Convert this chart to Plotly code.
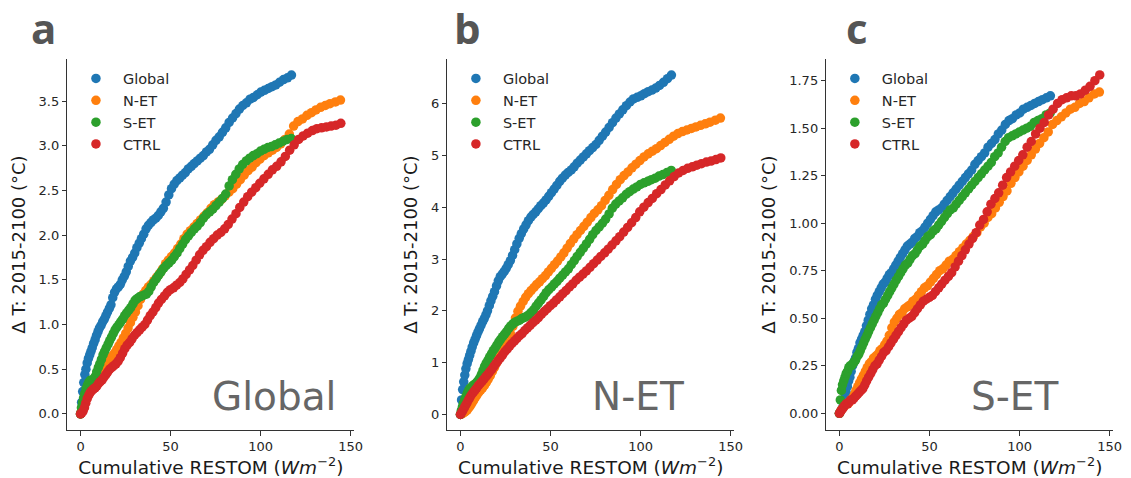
import plotly.graph_objects as go

# ---------------- data ----------------
series_names = ["Global", "N-ET", "S-ET", "CTRL"]
series_colors = ["#1f77b4", "#ff7f0e", "#2ca02c", "#d62728"]
panel_letters = ["a", "b", "c"]
panel_regions = ["Global", "N-ET", "S-ET"]
x_tick_vals = [0, 50, 100, 150]

# cumulative RESTOM (W m-2), one value per year 2015-2100, per experiment
x_global = [0, 0.6, 1.2, 1.8, 2.4, 3.0, 3.7, 4.4, 5.1, 5.8,
            6.5, 7.3, 8.1, 8.9, 9.7, 10.5, 11.4, 12.3, 13.2, 14.1,
            15.0, 16.0, 16.9, 17.9, 18.9, 20.0, 21.0, 22.1, 23.2, 24.3,
            25.4, 26.5, 27.7, 28.9, 30.1, 31.3, 32.6, 33.8, 35.1, 36.4,
            37.7, 39.1, 40.4, 41.8, 43.2, 44.6, 46.0, 47.5, 49.0, 50.5,
            52.0, 53.5, 55.1, 56.6, 58.2, 59.8, 61.5, 63.1, 64.8, 66.5,
            68.2, 69.9, 71.6, 73.4, 75.2, 77.0, 78.8, 80.6, 82.5, 84.4,
            86.3, 88.2, 90.1, 92.1, 94.1, 96.0, 98.1, 100.1, 102.1, 104.2,
            106.3, 108.4, 110.5, 112.7, 114.9, 117.1]
x_net = [0, 0.6, 1.3, 2.1, 2.9, 3.8, 4.7, 5.5, 6.4, 7.3,
         8.3, 9.2, 10.2, 11.2, 12.2, 13.3, 14.4, 15.4, 16.6, 17.7,
         18.9, 20.1, 21.3, 22.5, 23.8, 25.1, 26.4, 27.7, 29.1, 30.5,
         31.9, 33.3, 34.8, 36.2, 37.7, 39.2, 40.8, 42.3, 43.9, 45.5,
         47.2, 48.8, 50.5, 52.2, 53.9, 55.7, 57.4, 59.2, 61.0, 62.9,
         64.7, 66.6, 68.5, 70.4, 72.4, 74.3, 76.3, 78.3, 80.3, 82.4,
         84.5, 86.6, 88.7, 90.8, 93.0, 95.2, 97.4, 99.6, 101.9, 104.2,
         106.5, 108.8, 111.1, 113.5, 115.9, 118.3, 120.7, 123.2, 125.7, 128.2,
         130.7, 133.3, 135.9, 138.5, 141.5, 144.3]
x_set = [0, 0.5, 1.1, 1.7, 2.4, 3.1, 3.8, 4.5, 5.2, 5.9,
         6.7, 7.4, 8.2, 9.0, 9.9, 10.7, 11.6, 12.5, 13.4, 14.3,
         15.3, 16.2, 17.2, 18.2, 19.2, 20.2, 21.3, 22.3, 23.4, 24.5,
         25.6, 26.8, 27.9, 29.1, 30.3, 31.5, 32.8, 34.0, 35.3, 36.6,
         37.9, 39.2, 40.6, 42.0, 43.3, 44.7, 46.2, 47.6, 49.1, 50.6,
         52.1, 53.6, 55.1, 56.7, 58.3, 59.9, 61.5, 63.2, 64.8, 66.5,
         68.2, 69.9, 71.7, 73.4, 75.2, 77.0, 78.8, 80.6, 82.5, 84.3,
         86.2, 88.1, 90.0, 92.0, 93.9, 95.9, 97.9, 99.9, 101.9, 104.0,
         106.0, 108.1, 110.2, 112.4, 114.7, 117.0]
x_ctrl = [0, 0.7, 1.4, 2.2, 2.9, 3.7, 4.6, 5.4, 6.3, 7.2,
          8.1, 9.0, 10.0, 11.0, 12.0, 13.0, 14.1, 15.1, 16.2, 17.4,
          18.5, 19.7, 20.9, 22.1, 23.4, 24.6, 25.9, 27.3, 28.6, 30.0,
          31.4, 32.8, 34.2, 35.7, 37.2, 38.7, 40.2, 41.8, 43.3, 44.9,
          46.6, 48.2, 49.9, 51.6, 53.3, 55.1, 56.8, 58.6, 60.5, 62.3,
          64.2, 66.1, 68.0, 69.9, 71.9, 73.9, 75.9, 77.9, 80.0, 82.0,
          84.1, 86.3, 88.4, 90.6, 92.8, 95.0, 97.3, 99.5, 101.8, 104.2,
          106.5, 108.9, 111.3, 113.7, 116.1, 118.6, 121.1, 123.6, 126.1, 128.7,
          131.2, 133.8, 136.5, 139.1, 141.8, 144.5]

# panel a: global-mean warming (deg C)
dt_a_global = [0.0, 0.13, 0.25, 0.35, 0.44, 0.50, 0.57, 0.62, 0.66, 0.70,
               0.74, 0.79, 0.83, 0.88, 0.92, 0.96, 0.99, 1.03, 1.06, 1.10,
               1.14, 1.18, 1.22, 1.30, 1.36, 1.40, 1.42, 1.45, 1.50, 1.54,
               1.59, 1.65, 1.71, 1.75, 1.80, 1.86, 1.91, 1.96, 2.01, 2.07,
               2.11, 2.14, 2.17, 2.19, 2.22, 2.26, 2.30, 2.37, 2.45, 2.52,
               2.57, 2.61, 2.64, 2.67, 2.70, 2.74, 2.77, 2.80, 2.83, 2.86,
               2.89, 2.93, 2.96, 3.01, 3.06, 3.10, 3.15, 3.20, 3.26, 3.31,
               3.36, 3.41, 3.45, 3.48, 3.52, 3.54, 3.57, 3.60, 3.62, 3.64,
               3.66, 3.68, 3.71, 3.74, 3.76, 3.79]
dt_a_net = [0.0, 0.03, 0.07, 0.11, 0.15, 0.19, 0.23, 0.26, 0.29, 0.32,
            0.36, 0.39, 0.42, 0.46, 0.49, 0.53, 0.56, 0.59, 0.62, 0.65,
            0.68, 0.72, 0.76, 0.80, 0.85, 0.90, 0.96, 1.02, 1.08, 1.14,
            1.21, 1.28, 1.34, 1.38, 1.42, 1.45, 1.49, 1.53, 1.57, 1.62,
            1.68, 1.72, 1.76, 1.80, 1.85, 1.90, 1.96, 2.01, 2.05, 2.09,
            2.13, 2.17, 2.21, 2.25, 2.30, 2.34, 2.37, 2.40, 2.44, 2.48,
            2.52, 2.57, 2.62, 2.67, 2.72, 2.76, 2.81, 2.85, 2.89, 2.92,
            2.95, 2.98, 3.02, 3.07, 3.13, 3.22, 3.27, 3.30, 3.34, 3.37,
            3.40, 3.43, 3.45, 3.47, 3.49, 3.51]
dt_a_set = [0.0, 0.07, 0.13, 0.18, 0.23, 0.28, 0.32, 0.35, 0.37, 0.38,
            0.38, 0.39, 0.42, 0.47, 0.52, 0.56, 0.61, 0.66, 0.70, 0.74,
            0.78, 0.82, 0.86, 0.90, 0.94, 0.97, 1.00, 1.03, 1.06, 1.10,
            1.13, 1.16, 1.19, 1.23, 1.27, 1.29, 1.31, 1.32, 1.33, 1.34,
            1.37, 1.42, 1.47, 1.51, 1.55, 1.59, 1.63, 1.66, 1.69, 1.72,
            1.76, 1.80, 1.85, 1.90, 1.95, 1.99, 2.03, 2.07, 2.10, 2.14,
            2.19, 2.23, 2.26, 2.29, 2.33, 2.37, 2.41, 2.46, 2.55, 2.62,
            2.68, 2.74, 2.79, 2.83, 2.86, 2.89, 2.91, 2.94, 2.96, 2.98,
            2.99, 3.01, 3.03, 3.05, 3.07, 3.08]
dt_a_ctrl = [0.0, 0.01, 0.03, 0.07, 0.12, 0.17, 0.21, 0.24, 0.26, 0.28,
             0.29, 0.31, 0.34, 0.36, 0.38, 0.41, 0.44, 0.47, 0.50, 0.52,
             0.54, 0.56, 0.59, 0.63, 0.68, 0.73, 0.77, 0.80, 0.84, 0.88,
             0.91, 0.94, 0.97, 1.00, 1.05, 1.10, 1.14, 1.19, 1.24, 1.28,
             1.32, 1.36, 1.39, 1.41, 1.44, 1.47, 1.51, 1.56, 1.61, 1.66,
             1.72, 1.78, 1.83, 1.87, 1.92, 1.96, 2.00, 2.03, 2.07, 2.12,
             2.18, 2.24, 2.31, 2.37, 2.43, 2.48, 2.53, 2.58, 2.63, 2.68,
             2.73, 2.77, 2.82, 2.88, 2.95, 3.01, 3.07, 3.11, 3.14, 3.17,
             3.19, 3.20, 3.21, 3.22, 3.23, 3.25]

# panel b: northern extratropics warming (deg C)
dt_b_global = [0.0, 0.28, 0.48, 0.63, 0.76, 0.88, 0.98, 1.06, 1.14, 1.22,
               1.30, 1.38, 1.45, 1.52, 1.59, 1.65, 1.72, 1.79, 1.85, 1.92,
               2.00, 2.10, 2.19, 2.28, 2.37, 2.48, 2.58, 2.66, 2.71, 2.76,
               2.82, 2.89, 2.97, 3.07, 3.18, 3.29, 3.40, 3.49, 3.58, 3.66,
               3.74, 3.81, 3.86, 3.91, 3.97, 4.03, 4.08, 4.14, 4.21, 4.28,
               4.35, 4.42, 4.50, 4.56, 4.62, 4.67, 4.72, 4.78, 4.85, 4.91,
               4.97, 5.03, 5.09, 5.15, 5.21, 5.29, 5.37, 5.45, 5.54, 5.63,
               5.72, 5.80, 5.88, 5.96, 6.03, 6.09, 6.12, 6.15, 6.19, 6.23,
               6.26, 6.30, 6.35, 6.41, 6.48, 6.55]
dt_b_net = [0.0, 0.01, 0.02, 0.04, 0.06, 0.09, 0.13, 0.17, 0.22, 0.27,
            0.33, 0.38, 0.43, 0.47, 0.51, 0.56, 0.62, 0.68, 0.75, 0.83,
            0.91, 1.00, 1.08, 1.15, 1.24, 1.33, 1.44, 1.56, 1.70, 1.86,
            1.99, 2.09, 2.18, 2.26, 2.33, 2.39, 2.45, 2.51, 2.56, 2.62,
            2.68, 2.75, 2.82, 2.89, 2.96, 3.04, 3.12, 3.21, 3.30, 3.39,
            3.47, 3.55, 3.63, 3.71, 3.80, 3.88, 3.95, 4.03, 4.13, 4.23,
            4.34, 4.44, 4.53, 4.61, 4.68, 4.76, 4.83, 4.90, 4.97, 5.03,
            5.08, 5.13, 5.19, 5.25, 5.31, 5.37, 5.42, 5.46, 5.49, 5.52,
            5.55, 5.58, 5.61, 5.64, 5.68, 5.72]
dt_b_set = [0.0, 0.08, 0.15, 0.22, 0.29, 0.35, 0.41, 0.46, 0.50, 0.52,
            0.55, 0.57, 0.59, 0.62, 0.66, 0.70, 0.77, 0.85, 0.93, 0.99,
            1.05, 1.11, 1.17, 1.23, 1.28, 1.34, 1.40, 1.45, 1.50, 1.55,
            1.60, 1.66, 1.71, 1.75, 1.78, 1.80, 1.82, 1.85, 1.87, 1.89,
            1.92, 1.97, 2.02, 2.09, 2.15, 2.21, 2.28, 2.35, 2.41, 2.46,
            2.52, 2.57, 2.63, 2.69, 2.75, 2.81, 2.89, 2.97, 3.05, 3.13,
            3.21, 3.29, 3.38, 3.47, 3.55, 3.62, 3.69, 3.77, 3.87, 3.98,
            4.06, 4.12, 4.18, 4.25, 4.30, 4.35, 4.39, 4.44, 4.47, 4.50,
            4.53, 4.56, 4.60, 4.63, 4.67, 4.71]
dt_b_ctrl = [0.0, 0.04, 0.08, 0.13, 0.18, 0.23, 0.29, 0.34, 0.39, 0.43,
             0.47, 0.51, 0.56, 0.60, 0.64, 0.68, 0.73, 0.77, 0.82, 0.87,
             0.93, 0.98, 1.04, 1.09, 1.15, 1.21, 1.26, 1.32, 1.37, 1.42,
             1.47, 1.52, 1.56, 1.62, 1.67, 1.72, 1.77, 1.82, 1.87, 1.93,
             1.99, 2.04, 2.10, 2.15, 2.21, 2.27, 2.33, 2.39, 2.46, 2.52,
             2.59, 2.65, 2.71, 2.77, 2.84, 2.91, 2.98, 3.05, 3.12, 3.19,
             3.27, 3.35, 3.43, 3.52, 3.61, 3.70, 3.80, 3.91, 4.00, 4.09,
             4.17, 4.26, 4.34, 4.43, 4.51, 4.59, 4.66, 4.71, 4.75, 4.78,
             4.81, 4.84, 4.87, 4.89, 4.92, 4.95]

# panel c: southern extratropics warming (deg C)
dt_c_global = [0.0, 0.01, 0.02, 0.03, 0.05, 0.08, 0.11, 0.14, 0.17, 0.19,
               0.22, 0.25, 0.27, 0.29, 0.32, 0.34, 0.37, 0.39, 0.41, 0.43,
               0.46, 0.49, 0.52, 0.55, 0.57, 0.60, 0.62, 0.64, 0.66, 0.68,
               0.69, 0.71, 0.73, 0.74, 0.76, 0.78, 0.80, 0.82, 0.84, 0.86,
               0.88, 0.89, 0.90, 0.92, 0.93, 0.95, 0.96, 0.98, 1.00, 1.02,
               1.04, 1.06, 1.07, 1.08, 1.10, 1.12, 1.14, 1.16, 1.18, 1.20,
               1.22, 1.24, 1.26, 1.28, 1.31, 1.33, 1.35, 1.37, 1.40, 1.42,
               1.44, 1.47, 1.49, 1.52, 1.54, 1.55, 1.57, 1.58, 1.60, 1.61,
               1.62, 1.63, 1.64, 1.65, 1.66, 1.67]
dt_c_net = [0.0, 0.01, 0.02, 0.03, 0.04, 0.05, 0.05, 0.06, 0.07, 0.08,
            0.10, 0.12, 0.14, 0.16, 0.18, 0.20, 0.22, 0.24, 0.26, 0.27,
            0.29, 0.30, 0.31, 0.33, 0.34, 0.36, 0.38, 0.41, 0.45, 0.48,
            0.50, 0.52, 0.53, 0.55, 0.56, 0.57, 0.59, 0.60, 0.62, 0.64,
            0.66, 0.67, 0.69, 0.71, 0.73, 0.75, 0.76, 0.78, 0.80, 0.81,
            0.83, 0.85, 0.87, 0.89, 0.91, 0.93, 0.95, 0.98, 1.00, 1.03,
            1.05, 1.08, 1.11, 1.14, 1.17, 1.21, 1.24, 1.27, 1.30, 1.33,
            1.36, 1.39, 1.42, 1.45, 1.48, 1.52, 1.54, 1.56, 1.58, 1.60,
            1.61, 1.63, 1.64, 1.66, 1.68, 1.69]
dt_c_set = [0.0, 0.07, 0.12, 0.15, 0.17, 0.19, 0.21, 0.22, 0.24, 0.25,
            0.25, 0.26, 0.27, 0.28, 0.30, 0.31, 0.33, 0.35, 0.37, 0.39,
            0.41, 0.43, 0.45, 0.47, 0.49, 0.51, 0.53, 0.55, 0.57, 0.58,
            0.60, 0.62, 0.64, 0.66, 0.68, 0.70, 0.72, 0.74, 0.76, 0.78,
            0.79, 0.81, 0.83, 0.84, 0.86, 0.88, 0.89, 0.91, 0.93, 0.94,
            0.96, 0.97, 0.99, 1.01, 1.03, 1.05, 1.07, 1.08, 1.10, 1.12,
            1.14, 1.16, 1.18, 1.20, 1.22, 1.24, 1.26, 1.28, 1.30, 1.32,
            1.35, 1.37, 1.40, 1.43, 1.45, 1.46, 1.47, 1.48, 1.49, 1.50,
            1.51, 1.53, 1.54, 1.55, 1.57, 1.58]
dt_c_ctrl = [0.0, 0.01, 0.02, 0.03, 0.04, 0.05, 0.05, 0.06, 0.07, 0.07,
             0.08, 0.09, 0.10, 0.11, 0.12, 0.13, 0.15, 0.17, 0.19, 0.21,
             0.23, 0.25, 0.26, 0.28, 0.30, 0.32, 0.33, 0.35, 0.37, 0.39,
             0.41, 0.43, 0.45, 0.47, 0.49, 0.50, 0.51, 0.53, 0.55, 0.57,
             0.59, 0.60, 0.61, 0.62, 0.64, 0.66, 0.68, 0.70, 0.72, 0.74,
             0.77, 0.80, 0.83, 0.86, 0.89, 0.92, 0.95, 0.99, 1.02, 1.06,
             1.10, 1.13, 1.16, 1.20, 1.24, 1.27, 1.30, 1.33, 1.36, 1.40,
             1.43, 1.47, 1.50, 1.53, 1.57, 1.60, 1.63, 1.65, 1.66, 1.67,
             1.67, 1.68, 1.70, 1.72, 1.75, 1.78]

y_ticks_a = [0.0, 0.5, 1.0, 1.5, 2.0, 2.5, 3.0, 3.5]
y_ticks_b = [0, 1, 2, 3, 4, 5, 6]
y_ticks_c = [0.0, 0.25, 0.5, 0.75, 1.0, 1.25, 1.5, 1.75]

# ---------------- figure ----------------
W, H = 1131, 478
FONT = "DejaVu Sans"
AX_COL = "#333333"
TXT_COL = "#262626"

x_series = [x_global, x_net, x_set, x_ctrl]
panels = [
    dict(y=[dt_a_global, dt_a_net, dt_a_set, dt_a_ctrl], yr=[-0.18, 3.97],
         ticks=y_ticks_a, fmt=".1f", px=(68, 357), letter_px=29),
    dict(y=[dt_b_global, dt_b_net, dt_b_set, dt_b_ctrl], yr=[-0.30, 6.86],
         ticks=y_ticks_b, fmt="d", px=(451, 740), letter_px=456),
    dict(y=[dt_c_global, dt_c_net, dt_c_set, dt_c_ctrl], yr=[-0.088, 1.864],
         ticks=y_ticks_c, fmt=".2f", px=(833, 1122), letter_px=851),
]
y_dom = [1 - 430 / H, 1 - 59 / H]

fig = go.Figure()
layout = dict(
    width=W, height=H, margin=dict(l=0, r=0, t=0, b=0),
    paper_bgcolor="white", plot_bgcolor="white",
    font=dict(family=FONT, color=TXT_COL, size=13),
    annotations=[],
)

for i, p in enumerate(panels):
    n = "" if i == 0 else str(i + 1)
    leg = "legend" if i == 0 else "legend" + str(i + 1)
    for j, name in enumerate(series_names):
        fig.add_trace(go.Scatter(
            x=x_series[j], y=p["y"][j], mode="markers", name=name,
            marker=dict(color=series_colors[j], size=9.5, line=dict(width=0)),
            xaxis="x" + n, yaxis="y" + n, legend=leg, showlegend=True,
        ))
    x0, x1 = p["px"]
    layout["xaxis" + n] = dict(
        domain=[x0 / W, x1 / W], anchor="y" + n, range=[-7.25, 151.9],
        tickvals=x_tick_vals, showline=True, linecolor=AX_COL, linewidth=1.2,
        ticks="outside", ticklen=4.5, tickwidth=1.2, tickcolor=AX_COL,
        showgrid=False, zeroline=False,
        tickfont=dict(family=FONT, size=13, color=TXT_COL),
        title=dict(text="Cumulative RESTOM (<i>Wm</i><sup>\u22122</sup>)",
                   font=dict(family=FONT, size=18.5, color="#1a1a1a"), standoff=6),
    )
    layout["yaxis" + n] = dict(
        domain=y_dom, anchor="x" + n, range=p["yr"], tickvals=p["ticks"],
        tickformat=p["fmt"], showline=True, linecolor=AX_COL, linewidth=1.2,
        ticks="outside", ticklen=4.5, tickwidth=1.2, tickcolor=AX_COL,
        showgrid=False, zeroline=False,
        tickfont=dict(family=FONT, size=13, color=TXT_COL),
        title=dict(text="\u0394 T: 2015-2100 (\u00b0C)",
                   font=dict(family=FONT, size=18, color="#1a1a1a"), standoff=8),
    )
    layout[leg] = dict(
        x=(x0 + 1.5) / W, xanchor="left", y=1 - 62.5 / H, yanchor="top",
        bgcolor="rgba(0,0,0,0)", borderwidth=0, itemwidth=44,
        font=dict(family=FONT, size=14.5, color=TXT_COL),
    )
    layout["annotations"].append(dict(
        text=panel_regions[i], xref="x" + n + " domain", yref="y" + n + " domain",
        x=0.498, y=0.023, xanchor="left", yanchor="bottom", showarrow=False,
        font=dict(family=FONT, size=39, color="#666666"),
    ))
    layout["annotations"].append(dict(
        text="<b>" + panel_letters[i] + "</b>", xref="paper", yref="paper",
        x=p["letter_px"] / W, y=1 - 58.3 / H, xanchor="left", yanchor="bottom",
        showarrow=False, font=dict(family="Open Sans", size=42, color="#555555"),
    ))

fig.update_layout(**layout)
fig.write_html(
    "out.html",
    config={"displayModeBar": False},
    post_script="document.body.style.margin='0';document.body.style.overflow='hidden';",
)
